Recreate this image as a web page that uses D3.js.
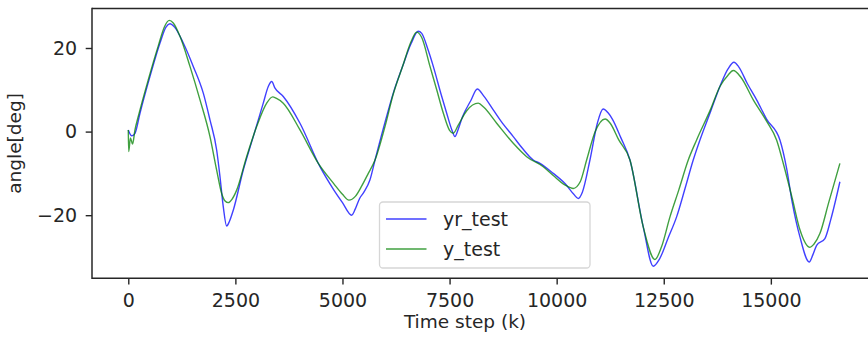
<!DOCTYPE html>
<html>
<head>
<meta charset="utf-8">
<script src="https://cdn.jsdelivr.net/npm/d3@7/dist/d3.min.js"></script>
<style>
  html, body { margin: 0; padding: 0; background: #fff; }
  svg { display: block; font-family: "DejaVu Sans", sans-serif; }
</style>
</head>
<body>
<svg id="chart" width="868" height="337"></svg>
<script>
// ---- data ----
const yrTime = [0, 79, 156, 273, 507, 740, 880, 973, 1080, 1284, 1517, 1751, 1907, 2063, 2141, 2218, 2296, 2360, 2451, 2684, 2918, 3151, 3268, 3347, 3425, 3618, 4008, 4475, 4800, 5000, 5215, 5300, 5400, 5500, 5640, 5760, 6000, 6186, 6400, 6600, 6769, 6850, 7000, 7120, 7300, 7433, 7550, 7626, 7700, 7800, 8000, 8147, 8300, 8520, 8700, 8987, 9200, 9453, 9610, 9920, 10200, 10400, 10504, 10600, 10777, 10950, 11085, 11200, 11300, 11500, 11711, 12021, 12255, 12400, 12600, 12800, 13000, 13188, 13345, 13600, 13811, 14000, 14139, 14250, 14450, 14668, 14900, 15212, 15368, 15500, 15679, 15896, 15980, 16069, 16262, 16400, 16612];
const yrTest = [0.4, -1.0, -0.4, 4.4, 13.2, 21.2, 25, 25.8, 25, 21.2, 15.6, 9.2, 2.8, -4.4, -10.8, -18, -22.6, -21.5, -18.8, -9.2, -1.2, 6.8, 10.8, 12.0, 10.4, 8.4, 2.0, -8.4, -14, -17, -20, -18.5, -16, -14.5, -11.6, -6.8, 2.5, 9.2, 15.5, 21, 24.0, 23.5, 19.5, 15.6, 9, 4.4, 0.5, -1.2, 0.5, 3.5, 7.5, 10.2, 8.5, 5.2, 2.5, -1.2, -4, -6.8, -7.6, -10, -12.5, -15, -16, -14.5, -6.8, 2, 5.4, 4.5, 3, -1.5, -6.8, -22.8, -32.2, -30.5, -25.5, -20.4, -13.5, -6.8, -2, 5, 10.8, 15, 16.6, 15.5, 11.5, 7.6, 3, -2, -8.8, -17, -25.2, -31.2, -29.5, -27.2, -25.6, -21, -12.0];

const yTime = [0, 10, 50, 100, 156, 233, 467, 700, 850, 957, 1050, 1207, 1440, 1674, 1907, 2063, 2180, 2260, 2334, 2420, 2530, 2763, 2997, 3231, 3370, 3450, 3618, 4008, 4436, 4800, 5000, 5151, 5300, 5450, 5603, 5760, 6000, 6186, 6400, 6600, 6732, 6850, 7043, 7200, 7355, 7500, 7587, 7700, 7900, 8170, 8300, 8600, 8987, 9300, 9687, 9920, 10200, 10388, 10550, 10700, 10900, 11131, 11250, 11450, 11711, 12021, 12294, 12450, 12645, 12850, 13072, 13267, 13600, 13811, 14000, 14123, 14300, 14590, 14900, 15134, 15300, 15500, 15679, 15913, 16000, 16145, 16350, 16612];
const yTest = [0.4, -4.8, -1.5, -3, 0.4, 3.6, 12.4, 20.5, 25.2, 26.6, 26, 22.8, 15.6, 7.6, -1.2, -9.2, -14.8, -16.6, -17.0, -16.2, -14, -6, 1.2, 6.8, 8.3, 8.0, 6.8, 0.4, -7.6, -12.5, -15, -16.4, -15.5, -13, -10, -6.8, 1.5, 9, 15.5, 21.5, 23.8, 22.5, 15.6, 10, 4.4, 0.3, -0.4, 1.5, 5, 6.8, 5.8, 2, -2.8, -6, -8.4, -10.5, -12.8, -13.6, -12, -6.8, 0, 3.0, 2, -2, -6.8, -22.8, -30.6, -27.5, -20.4, -14, -6.8, -2, 5.5, 10.8, 13.5, 14.6, 13, 7.6, 2.5, -2, -8, -16, -23.5, -27.7, -27, -24.4, -17, -7.6];

const xTicks = [0, 2500, 5000, 7500, 10000, 12500, 15000];
const yTicks = [-20, 0, 20];
const seriesNames = ["yr_test", "y_test"];
const xLabel = "Time step (k)";
const yLabel = "angle[deg]";

// ---- layout ----
const svg = d3.select("#chart");
const padL = 92, padT = 8.5, padB = 278.3;
const x = d3.scaleLinear().domain([-847, 17443]).range([padL, 875.5]);
const y = d3.scaleLinear().domain([-35.1, 29.45]).range([padB, padT]);

const colors = ["rgba(0,0,255,0.75)", "rgba(0,128,0,0.75)"];
const ink = "#262626";
const fs = 19;

svg.append("defs").append("clipPath").attr("id", "clip")
  .append("rect").attr("x", padL).attr("y", padT).attr("width", 868 - padL).attr("height", padB - padT);

const line = d3.line().x(d => x(d[0])).y(d => y(d[1])).curve(d3.curveMonotoneX);
const yrData = yrTime.map((t, i) => [t, yrTest[i]]);
const yData = yTime.map((t, i) => [t, yTest[i]]);

const lines = svg.append("g").attr("clip-path", "url(#clip)");
lines.append("path").datum(yrData).attr("d", line)
  .attr("fill", "none").attr("stroke", colors[0]).attr("stroke-width", 1.4).attr("stroke-linejoin", "round");
lines.append("path").datum(yData).attr("d", line)
  .attr("fill", "none").attr("stroke", colors[1]).attr("stroke-width", 1.4).attr("stroke-linejoin", "round");

// axes
const xAxis = svg.append("g").attr("transform", `translate(0,${padB})`)
  .call(d3.axisBottom(x).tickValues(xTicks).tickFormat(d3.format("d")).tickSize(6.3).tickPadding(8.7).tickSizeOuter(0));
const yAxis = svg.append("g").attr("transform", `translate(${padL},0)`)
  .call(d3.axisLeft(y).tickValues(yTicks).tickFormat(d => d < 0 ? "\u2212" + Math.abs(d) : d).tickSize(6.3).tickPadding(8.5).tickSizeOuter(0));

[xAxis, yAxis].forEach(a => {
  a.select(".domain").remove();
  a.selectAll(".tick line").attr("stroke", ink).attr("stroke-width", 1.4);
  a.selectAll(".tick text").attr("fill", ink).style("font-size", fs + "px").style("font-family", "DejaVu Sans");
});

// spines (right spine lies outside the picture)
svg.append("line").attr("x1", padL).attr("x2", 868).attr("y1", padT).attr("y2", padT).attr("stroke", ink).attr("stroke-width", 1.5);
svg.append("line").attr("x1", padL).attr("x2", 868).attr("y1", padB).attr("y2", padB).attr("stroke", ink).attr("stroke-width", 1.5);
svg.append("line").attr("x1", padL).attr("x2", padL).attr("y1", padT - 0.75).attr("y2", padB + 0.75).attr("stroke", ink).attr("stroke-width", 1.5);

// axis labels
svg.append("text").attr("x", 465).attr("y", 327.5).attr("text-anchor", "middle")
  .attr("fill", ink).style("font-size", "18.5px").text(xLabel);
svg.append("text").attr("transform", `translate(21,${(padT + padB) / 2}) rotate(-90)`).attr("text-anchor", "middle")
  .attr("fill", ink).style("font-size", "18.5px").text(yLabel);

// legend
const lg = svg.append("g");
lg.append("rect").attr("x", 379.5).attr("y", 202).attr("width", 210.5).attr("height", 66)
  .attr("rx", 3.5).attr("fill", "rgba(255,255,255,0.8)").attr("stroke", "#d6d6d6").attr("stroke-width", 1.3);
seriesNames.forEach((name, i) => {
  const yy = 219 + i * 30;
  lg.append("line").attr("x1", 386).attr("x2", 426.5).attr("y1", yy).attr("y2", yy)
    .attr("stroke", colors[i]).attr("stroke-width", 1.4);
  lg.append("text").attr("x", 443).attr("y", yy + 7).attr("fill", ink).style("font-size", fs + "px").text(name);
});
</script>
</body>
</html>
